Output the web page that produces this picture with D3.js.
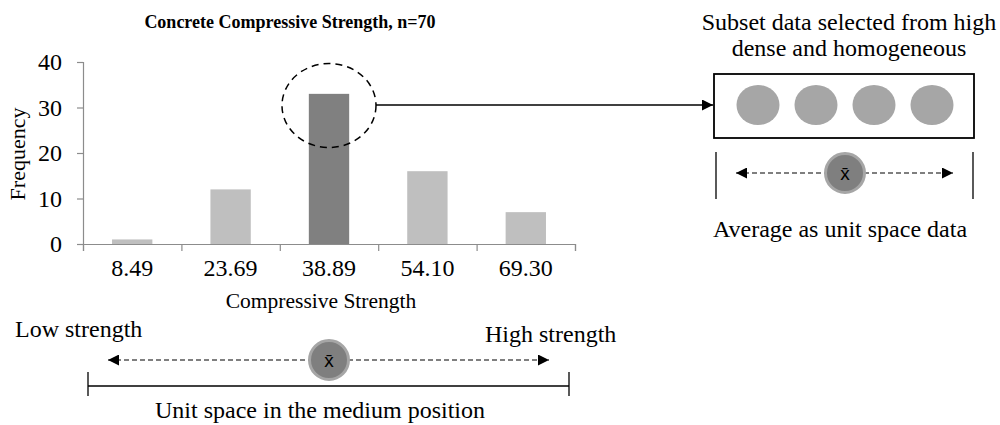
<!DOCTYPE html>
<html>
<head>
<meta charset="utf-8">
<script src="https://cdn.jsdelivr.net/npm/d3@7"></script>
<style>
  body { margin: 0; background: #fff; }
  svg { display: block; font-family: "Liberation Serif", "Times New Roman", serif; }
</style>
</head>
<body>
<svg id="chart" width="1000" height="425"></svg>
<script>
// chart data
const categories = ["8.49", "23.69", "38.89", "54.10", "69.30"];
const frequencies = [1, 12, 33, 16, 7];
const highlighted = "38.89";
const yTicks = [0, 10, 20, 30, 40];
const subsetPoints = [1, 2, 3, 4];

const svg = d3.select("#chart");

// plot area
const margin = { left: 83, right: 575, top: 62, bottom: 244 };

const x = d3.scaleBand().domain(categories).range([margin.left, margin.right]);
const y = d3.scaleLinear().domain([0, 40]).range([margin.bottom, margin.top]);
const barWidth = x.bandwidth() * 0.41;

// arrow heads
const defs = svg.append("defs");
defs.append("marker")
    .attr("id", "tri")
    .attr("viewBox", "0 0 10 10")
    .attr("refX", 10).attr("refY", 5)
    .attr("markerWidth", 13).attr("markerHeight", 11)
    .attr("markerUnits", "userSpaceOnUse")
    .attr("orient", "auto-start-reverse")
    .append("path")
    .attr("d", "M0,0 L10,5 L0,10 Z")
    .attr("fill", "#000");

// title
svg.append("text")
    .attr("x", 290).attr("y", 28)
    .attr("text-anchor", "middle")
    .attr("font-size", "18px").attr("font-weight", "bold")
    .text("Concrete Compressive Strength, n=70");

// bars
svg.append("g")
    .selectAll("rect")
    .data(categories)
    .enter()
    .append("rect")
    .attr("x", (d) => x(d) + (x.bandwidth() - barWidth) / 2)
    .attr("y", (d, i) => y(frequencies[i]))
    .attr("width", barWidth)
    .attr("height", (d, i) => y(0) - y(frequencies[i]))
    .attr("fill", (d) => (d === highlighted ? "#808080" : "#bfbfbf"));

// y axis
const yAxis = svg.append("g")
    .attr("transform", "translate(" + margin.left + ",0)")
    .call(d3.axisLeft(y).tickValues(yTicks).tickSize(6).tickPadding(15));
yAxis.selectAll("text")
    .attr("font-size", "24px").attr("font-family", "Liberation Serif").attr("fill", "#000");

// x axis: labels at band centres, tick marks at band edges
const xAxis = svg.append("g")
    .attr("transform", "translate(0," + margin.bottom + ")")
    .call(d3.axisBottom(x).tickSize(0).tickPadding(15));
xAxis.selectAll("text")
    .attr("font-size", "24px").attr("font-family", "Liberation Serif").attr("fill", "#000");
const edges = d3.scaleLinear().domain([0, categories.length]).range([margin.left, margin.right]);
svg.append("g")
    .attr("transform", "translate(0," + margin.bottom + ")")
    .call(d3.axisBottom(edges).ticks(categories.length).tickSize(7).tickFormat(""));

svg.selectAll(".domain, .tick line").attr("stroke", "#8c8c8c").attr("stroke-width", 1.2);

// axis titles
svg.append("text")
    .attr("transform", "translate(25,154) rotate(-90)")
    .attr("text-anchor", "middle")
    .attr("font-size", "22px")
    .text("Frequency");

svg.append("text")
    .attr("x", 321).attr("y", 308)
    .attr("text-anchor", "middle")
    .attr("font-size", "21.5px")
    .text("Compressive Strength");

// dashed ellipse around the highlighted bar and the connector arrow
const cx = x(highlighted) + x.bandwidth() / 2;
svg.append("ellipse")
    .attr("cx", cx).attr("cy", 105.5)
    .attr("rx", 47).attr("ry", 42)
    .attr("fill", "none").attr("stroke", "#000")
    .attr("stroke-width", 1.5).attr("stroke-dasharray", "7,5");

svg.append("line")
    .attr("x1", cx + 47).attr("y1", 105)
    .attr("x2", 713).attr("y2", 105)
    .attr("stroke", "#000").attr("stroke-width", 1.3)
    .attr("marker-end", "url(#tri)");

// subset box
svg.append("text")
    .attr("text-anchor", "middle")
    .attr("font-size", "24px")
    .selectAll("tspan")
    .data(["Subset data selected from high", "dense and homogeneous"])
    .enter()
    .append("tspan")
    .attr("x", 849)
    .attr("y", (d, i) => 30 + i * 26)
    .text((d) => d);

svg.append("rect")
    .attr("x", 714).attr("y", 74)
    .attr("width", 260).attr("height", 64)
    .attr("fill", "none").attr("stroke", "#000").attr("stroke-width", 1.8);

const px = d3.scalePoint().domain(subsetPoints).range([758, 932]);
svg.append("g")
    .selectAll("ellipse")
    .data(subsetPoints)
    .enter()
    .append("ellipse")
    .attr("cx", (d) => px(d)).attr("cy", 105)
    .attr("rx", 21.5).attr("ry", 20)
    .attr("fill", "#a6a6a6");

// range bracket with mean marker
function meanRange(x1, x2, yLine, mx, yBar, barTop, barBottom) {
    svg.append("line")
        .attr("x1", x1 + 10).attr("x2", x2 - 10)
        .attr("y1", yLine).attr("y2", yLine)
        .attr("stroke", "#000").attr("stroke-width", 1.2)
        .attr("stroke-dasharray", "5,3")
        .attr("marker-start", "url(#tri)")
        .attr("marker-end", "url(#tri)");
    if (yBar != null) {
        svg.append("line")
            .attr("x1", x1 - 10).attr("x2", x2 + 10)
            .attr("y1", yBar).attr("y2", yBar)
            .attr("stroke", "#000").attr("stroke-width", 1.3);
    }
    [x1 - 10, x2 + 10].forEach((vx) => {
        svg.append("line")
            .attr("x1", vx).attr("x2", vx)
            .attr("y1", barTop).attr("y2", barBottom)
            .attr("stroke", "#000").attr("stroke-width", 1.3);
    });
    svg.append("circle")
        .attr("cx", mx).attr("cy", yLine).attr("r", 19.5)
        .attr("fill", "#7f7f7f").attr("stroke", "#a6a6a6").attr("stroke-width", 3);
    svg.append("text")
        .attr("x", mx).attr("y", yLine + 7)
        .attr("text-anchor", "middle")
        .attr("font-family", "Liberation Sans, Arial, sans-serif")
        .attr("font-size", "19px")
        .text("x\u0304");
}

meanRange(726, 963, 173, 845, null, 152, 199);

svg.append("text")
    .attr("x", 840).attr("y", 237)
    .attr("text-anchor", "middle")
    .attr("font-size", "24px")
    .text("Average as unit space data");

// strength scale along the bottom
meanRange(98, 559, 360, 329, 386, 372, 396);

svg.append("text")
    .attr("x", 15).attr("y", 337)
    .attr("font-size", "24px")
    .text("Low strength");

svg.append("text")
    .attr("x", 485).attr("y", 342)
    .attr("font-size", "24px")
    .text("High strength");

svg.append("text")
    .attr("x", 320).attr("y", 418)
    .attr("text-anchor", "middle")
    .attr("font-size", "24px")
    .text("Unit space in the medium position");
</script>
</body>
</html>
